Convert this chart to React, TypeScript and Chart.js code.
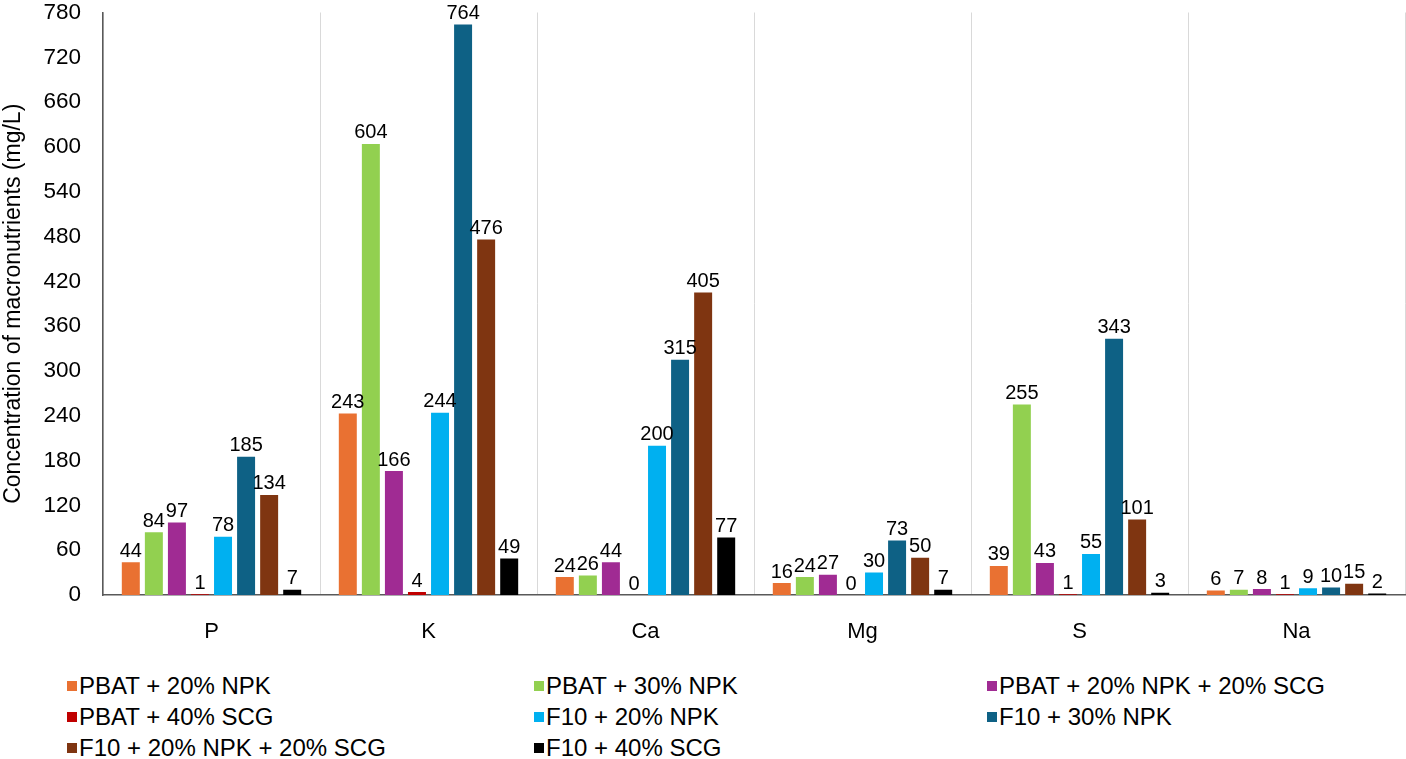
import { useEffect, useRef } from 'react';
import { Chart, registerables } from 'chart.js';

Chart.register(...registerables);

const nutrients = ['P', 'K', 'Ca', 'Mg', 'S', 'Na'];

const seriesNames = [
  'PBAT + 20% NPK',
  'PBAT + 30% NPK',
  'PBAT + 20% NPK + 20% SCG',
  'PBAT + 40% SCG',
  'F10 + 20% NPK',
  'F10 + 30% NPK',
  'F10 + 20% NPK + 20% SCG',
  'F10 + 40% SCG',
];

const seriesColors = ['#E97132', '#92D050', '#A02B93', '#C00000', '#00B0F0', '#0E6185', '#7F3511', '#000000'];

// values per series, in the order of nutrients
const pbat20Npk = [44, 243, 24, 16, 39, 6];
const pbat30Npk = [84, 604, 26, 24, 255, 7];
const pbat20Npk20Scg = [97, 166, 44, 27, 43, 8];
const pbat40Scg = [1, 4, 0, 0, 1, 1];
const f10_20Npk = [78, 244, 200, 30, 55, 9];
const f10_30Npk = [185, 764, 315, 73, 343, 10];
const f10_20Npk20Scg = [134, 476, 405, 50, 101, 15];
const f10_40Scg = [7, 49, 77, 7, 3, 2];

const seriesValues = [pbat20Npk, pbat30Npk, pbat20Npk20Scg, pbat40Scg, f10_20Npk, f10_30Npk, f10_20Npk20Scg, f10_40Scg];

const yTicks = [0, 60, 120, 180, 240, 300, 360, 420, 480, 540, 600, 660, 720, 780];

const FONT = '"Liberation Sans", Arial, sans-serif';

const barLabels = {
  id: 'barLabels',
  afterDatasetsDraw(chart: any) {
    const { ctx } = chart;
    ctx.save();
    ctx.font = `20px ${FONT}`;
    ctx.fillStyle = '#000';
    ctx.textAlign = 'center';
    ctx.textBaseline = 'bottom';
    chart.data.datasets.forEach((ds: any, di: number) => {
      const meta = chart.getDatasetMeta(di);
      meta.data.forEach((bar: any, i: number) => {
        ctx.fillText(String(ds.data[i]), bar.x, bar.y - 1);
      });
    });
    ctx.restore();
  },
};

export default function App() {
  const canvasRef = useRef<HTMLCanvasElement>(null);

  useEffect(() => {
    if (!canvasRef.current) return;
    const chart = new Chart(canvasRef.current, {
      type: 'bar',
      data: {
        labels: nutrients,
        datasets: seriesNames.map((name, i) => ({
          label: name,
          data: seriesValues[i],
          backgroundColor: seriesColors[i],
          categoryPercentage: 0.85,
          barPercentage: 0.78,
        })),
      },
      options: {
        animation: false,
        responsive: false,
        layout: { padding: { top: 0, right: 1, left: 0, bottom: 0 } },
        plugins: {
          legend: { display: false },
          tooltip: { enabled: false },
        },
        scales: {
          x: {
            grid: { color: '#D9D9D9', drawTicks: false, offset: true },
            border: { color: '#595959', width: 1.5 },
            ticks: { color: '#000', font: { family: FONT, size: 22 }, padding: 24 },
            afterFit: (s: any) => {
              s.height = 65;
            },
          },
          y: {
            min: 0,
            max: 780,
            afterBuildTicks: (s: any) => {
              s.ticks = yTicks.map((v) => ({ value: v }));
            },
            grid: { display: false, drawTicks: false },
            border: { color: '#595959', width: 1.5 },
            ticks: { color: '#000', font: { family: FONT, size: 22.5 }, padding: 22 },
            title: {
              display: true,
              text: 'Concentration of macronutrients (mg/L)',
              color: '#000',
              font: { family: FONT, size: 23 },
              padding: { top: 0, bottom: 0 },
            },
            afterFit: (s: any) => {
              s.width = 103;
            },
          },
        },
      },
      plugins: [barLabels],
    });
    return () => chart.destroy();
  }, []);

  return (
    <div style={{ position: 'absolute', left: 0, top: 0, width: 1406, height: 759, overflow: 'hidden', background: '#fff', fontFamily: FONT }}>
      <canvas ref={canvasRef} width={1406} height={683} style={{ position: 'absolute', left: 0, top: -23 }} />
      <div
        style={{
          position: 'absolute',
          left: 67,
          top: 670,
          display: 'grid',
          gridTemplateColumns: '467px 453px 400px',
          gridAutoRows: '31px',
        }}
      >
        {seriesNames.map((name, i) => (
          <div key={name} style={{ display: 'flex', alignItems: 'center', fontSize: 24, color: '#000', whiteSpace: 'nowrap' }}>
            <span style={{ display: 'inline-block', width: 10, height: 10, background: seriesColors[i], marginRight: 2 }} />
            {name}
          </div>
        ))}
      </div>
    </div>
  );
}
